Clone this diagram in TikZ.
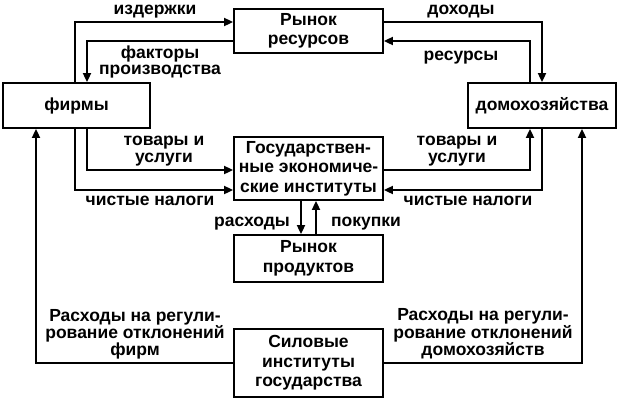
\documentclass[tikz,border=0pt]{standalone}
\usepackage{fontspec}
\setmainfont{Liberation Sans}
\usetikzlibrary{arrows.meta,positioning}

\begin{document}
\begin{tikzpicture}[
  x=1pt, y=-1pt,
  font=\bfseries\fontsize{17.5}{19.5}\selectfont,
  box/.style={draw, line width=1.8pt, minimum width=149pt, align=center, inner sep=2pt},
  lbl/.style={align=center, inner sep=0pt, font=\bfseries\fontsize{17.5}{16.5}\selectfont},
  >={Triangle[length=9pt,width=8pt]}, line width=1.8pt
]
\useasboundingbox (0,0) rectangle (619,400);

% boxes
\node[box, minimum height=44pt] (res) at (308.5,31) {Рынок\\ресурсов};
\node[box, minimum width=147pt, minimum height=45pt] (firms) at (76.5,105.5) {фирмы};
\node[box, minimum width=148pt, minimum height=45pt] (hh) at (542,105.5) {домохозяйства};
\node[box, minimum height=63pt] (gov) at (308.5,168.5) {Государствен-\\ные экономиче-\\ские институты};
\node[box, minimum height=47pt] (prod) at (308.5,258.5) {Рынок\\продуктов};
\node[box, minimum height=68pt] (force) at (308.5,363) {Силовые\\институты\\государства};

% resource market
\draw[->] ([xshift=-1.5pt]firms.north) |- ([yshift=9pt]res.west);
\draw[->] ([yshift=-10pt]res.west) -| ([xshift=10.5pt]firms.north);
\draw[->] ([yshift=9pt]res.east) -| (hh.north);
\draw[->] ([xshift=-12pt]hh.north) |- ([yshift=-10pt]res.east);

% government
\draw[->] ([xshift=10.5pt]firms.south) |- ([yshift=-1.5pt]gov.west);
\draw[->] ([xshift=-1.5pt]firms.south) |- ([yshift=-21.5pt]gov.west);
\draw[->] ([yshift=-1.5pt]gov.east) -| ([xshift=-12pt]hh.south);
\draw[->] (hh.south) |- ([yshift=-21.5pt]gov.east);

% product market
\draw[->] ([xshift=-7.5pt]gov.south) -- ([xshift=-7.5pt]prod.north);
\draw[->] ([xshift=7.5pt]prod.north) -- ([xshift=7.5pt]gov.south);

% force institutions
\draw[->] (force.west) -| ([xshift=-40.5pt]firms.south);
\draw[->] (force.east) -| ([xshift=40pt]hh.south);

% labels
\node[lbl, anchor=base] (l1) at (155,14) {издержки};
\node[lbl, anchor=base] (l2) at (461,14) {доходы};
\node[lbl] (l3) at (160,62) {факторы\\производства};
\node[lbl] (l4) at (461,58) {ресурсы};
\node[lbl] (l5) at (164,151) {товары и\\услуги};
\node[lbl] (l6) at (457,151) {товары и\\услуги};
\node[lbl] (l7) at (150,201) {чистые налоги};
\node[lbl] (l8) at (468,201) {чистые налоги};
\node[lbl] (l9) at (252,224) {расходы};
\node[lbl] (l10) at (366,224) {покупки};
\node[lbl] (l11) at (135,334) {Расходы на регули-\\рование отклонений\\фирм};
\node[lbl] (l12) at (483,334) {Расходы на регули-\\рование отклонений\\домохозяйств};

\end{tikzpicture}
\end{document}
